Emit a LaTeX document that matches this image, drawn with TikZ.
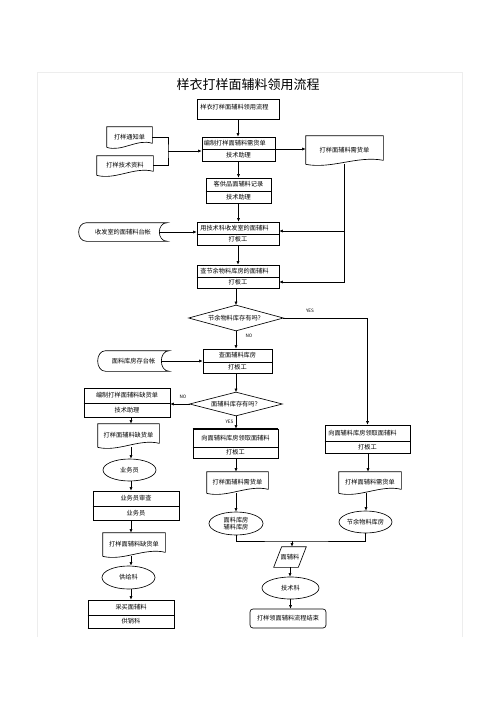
\documentclass[tikz,border=0pt]{standalone}
\usepackage{fontspec}
\setmainfont{Noto Sans CJK SC}
\usetikzlibrary{arrows.meta,shapes.geometric}
\newcommand\boxfr[6]{%
  \node[frm, minimum width={#4-#2}, minimum height={#5-#3}] (#1) at ({(#2+#4)/2},{(#3+#5)/2}) {};
  \draw (#1.west |- 0,#6) -- (#1.east |- 0,#6);}
\newcommand\docnd[6]{%
  \node[txt, minimum width=#4, minimum height=#5] (#1) at (#2,#3) {#6};
  \draw (#1.south west) -- (#1.north west) -- (#1.north east) -- ([yshift=4pt]#1.south east)
    .. controls ([xshift={-#4/3}, yshift=9pt]#1.south east) and ([xshift={#4/3}, yshift=-5pt]#1.south west) .. (#1.south west);}
\newcommand\storend[7]{%
  \node[txt, minimum width=#4, minimum height=#5] (#1) at (#2,#3) {#7};
  \draw ([xshift=#6]#1.north west) -- (#1.north east)
    .. controls ([xshift={-4/3*#6}]#1.north east) and ([xshift={-4/3*#6}]#1.south east) .. (#1.south east)
    -- ([xshift=#6]#1.south west)
    .. controls ([xshift={-#6/3}]#1.south west) and ([xshift={-#6/3}]#1.north west) .. cycle;}
\begin{document}
\begin{tikzpicture}[x=1pt,y=-1pt,line width=0.65pt,
  txt/.style={font=\fontsize{6.2}{7}\selectfont, inner sep=0pt},
  lab/.style={font=\fontsize{4.6}{5}\selectfont, inner sep=0pt},
  frm/.style={draw, inner sep=0pt},
  ell/.style={draw, ellipse, inner sep=0pt, font=\fontsize{6.2}{7.4}\selectfont, align=center},
  arr/.style={-{Latex[length=3.6pt,width=3.2pt]}}]
\useasboundingbox (0,0) rectangle (500,707);
\draw[black!7, line width=0.8pt] (37,637) -- (37,72) -- (462,72) -- (462,637);
\node[font=\fontsize{13}{14}\selectfont, inner sep=0pt] (title) at (248,85) {样衣打样面辅料领用流程};

% top part
\node[frm, minimum width=82, minimum height=20] (b1) at (238,109) {};
\node[txt, anchor=west] (b1t) at (200,107) {样衣打样面辅料领用流程};
\boxfr{b2}{202}{137}{275}{161}{149}
\node[txt, anchor=west] (b2t) at (203.5,143) {编制打样面辅料需货单};
\node[txt] (b2b) at (238.5,155) {技术助理};
\docnd{doc1}{129.5}{137}{45}{20}{打样通知单}
\docnd{doc2}{125}{165.5}{56}{19}{打样技术资料}
\docnd{doc3}{344.5}{150}{77}{28}{打样面辅料需货单}
\boxfr{b3}{206}{178}{271}{203}{191}
\node[txt] (b3t) at (238.5,184.5) {客供品面辅料记录};
\node[txt] (b3b) at (238.5,197) {技术助理};
\boxfr{b4}{197}{222}{279}{245}{234}
\node[txt, anchor=west] (b4t) at (200,228) {用技术科收发室的面辅料};
\node[txt] (b4b) at (238,239.5) {打板工};
\storend{st1}{123}{232}{88}{18}{8}{收发室的面辅料台帐}
\boxfr{b5}{197}{265}{279}{288}{277}
\node[txt, anchor=west] (b5t) at (200,271) {查节余物料库房的面辅料};
\node[txt] (b5b) at (238,282.5) {打板工};

% decisions
\node[txt, minimum width=94, minimum height=25] (d1) at (236,318) {节余物料库存有吗？};
\draw (d1.west) -- (d1.north) -- (d1.east) -- (d1.south) -- cycle;
\node[lab] (yes1) at (310,311) {YES};
\node[lab] (no1) at (249,336) {NO};
\boxfr{b6}{203}{349}{272}{373}{362}
\node[txt] (b6t) at (237.5,355.5) {查面辅料库房};
\node[txt] (b6b) at (237.5,367.5) {打板工};
\storend{st2}{133.5}{361}{71}{20}{8}{面料库房存台帐}
\node[txt, minimum width=92, minimum height=23] (d2) at (236,404) {面辅料库存有吗？};
\draw (d2.west) -- (d2.north) -- (d2.east) -- (d2.south) -- cycle;
\node[lab] (no2) at (183,397) {NO};
\node[lab] (yes2) at (229.5,422) {YES};

% left column
\boxfr{b7}{84}{388}{170}{417}{403}
\node[txt] (b7t) at (127,395.5) {编制打样面辅料缺货单};
\node[txt] (b7b) at (127,410) {技术助理};
\docnd{doc4}{128.5}{435.5}{61}{23}{打样面辅料缺货单}
\node[ell, minimum width=53, minimum height=22] (e1) at (129.5,470) {业务员};
\boxfr{b10}{93}{491}{179}{520}{506}
\node[txt] (b10t) at (136,498.5) {业务员审查};
\node[txt] (b10b) at (136,513) {业务员};
\docnd{doc5}{134}{544.5}{62}{23}{打样面辅料缺货单}
\node[ell, minimum width=53, minimum height=23] (e2) at (128.5,577.5) {供给科};
\boxfr{b11}{88}{600}{174}{628}{615}
\draw[line width=1.1pt] (b11.south west) -- (b11.south east);
\node[txt] (b11t) at (131,607.5) {采买面辅料};
\node[txt] (b11b) at (131,621.5) {供销科};

% middle and right columns
\boxfr{b8}{193}{429}{278}{458}{447}
\draw[line width=1.2pt] (b8.north west) -- (b8.north east);
\node[txt] (b8t) at (235.5,438) {向面辅料库房领取面辅料};
\node[txt] (b8b) at (235.5,452.5) {打板工};
\boxfr{b9}{325}{425}{410}{453}{441}
\node[txt, anchor=west] (b9t) at (328,433) {向面辅料库房领取面辅料};
\node[txt] (b9b) at (367.5,447) {打板工};
\docnd{doc6}{237.5}{482.5}{61}{21}{打样面辅料需货单}
\docnd{doc7}{370}{482.5}{62}{21}{打样面辅料需货单}
\node[ell, minimum width=54, minimum height=23] (e3) at (236,523.5) {面料库房\\辅料库房};
\node[ell, minimum width=53, minimum height=22] (e4) at (365.5,522) {节余物料库房};
\node[txt, minimum width=32, minimum height=20] (para) at (290,557) {面辅料};
\draw ([xshift=8pt]para.north west) -- (para.north east) -- ([xshift=-8pt]para.south east) -- (para.south west) -- cycle;
\node[ell, minimum width=57, minimum height=22] (e5) at (290.5,588) {技术科};
\node[draw, rounded corners=3pt, txt, minimum width=76, minimum height=19] (end) at (288,618.5) {打样领面辅料流程结束};

% connectors
\draw[arr] (b1.south) -- (b1.south |- b2.north);
\coordinate (br1) at (168,151);
\draw (doc1.east) -| (br1) |- (doc2.east);
\draw[arr] (br1) -- (br1 -| b2.west);
\draw[arr] (b2.east) -- (b2.east -| doc3.west);
\draw[arr] (b2.south -| 238.5,0) -- (b3.north -| 238.5,0);
\draw[arr] (b3.south) -- (b3.south |- b4.north);
\draw[arr] ([xshift=-8pt]st1.east) -- (st1.east -| b4.west);
\coordinate (v1) at (344,231);
\draw[arr] (doc3.south -| v1) |- (b5.east |- 0,282);
\draw[arr] (v1) -- (v1 -| b4.east);
\draw[arr] (b4.south) -- (b4.south |- b5.north);
\draw[arr] (b5.south -| d1.north) -- (d1.north);
\draw[arr] (d1.east) -| (b9.north);
\draw[arr] (d1.south) -- (d1.south |- b6.north);
\draw[arr] ([xshift=-8pt]st2.east) -- (st2.east -| b6.west);
\draw[arr] (b6.south -| d2.north) -- (d2.north);
\draw[arr] (d2.west) -- (d2.west -| b7.east);
\draw[arr] (d2.south) -- (d2.south |- b8.north);
\draw[arr] (b7.south -| 131,0) -- (doc4.north -| 131,0);
\draw[arr] (doc4.south -| 131,0) -- (e1.north -| 131,0);
\draw[arr] (e1.south -| 131,0) -- (b10.north -| 131,0);
\draw[arr] (b10.south -| 131,0) -- (doc5.north -| 131,0);
\draw[arr] (doc5.south -| 131,0) -- (e2.north -| 131,0);
\draw[arr] (e2.south -| 131,0) -- (b11.north -| 131,0);
\draw[arr] (b8.south -| 236,0) -- (doc6.north -| 236,0);
\draw[arr] (doc6.south -| e3.north) -- (e3.north);
\draw[arr] (b9.south -| 368,0) -- (doc7.north -| 368,0);
\draw[arr] (doc7.south -| 366,0) -- (e4.north -| 366,0);
\coordinate (mj) at (292,541);
\draw (e3.south) |- (mj) -| (e4.south);
\draw[arr] (mj) -- (para.north -| mj);
\draw[arr] (para.south) -- (para.south |- e5.north);
\draw[arr] (e5.south) -- (e5.south |- end.north);
\end{tikzpicture}
\end{document}
